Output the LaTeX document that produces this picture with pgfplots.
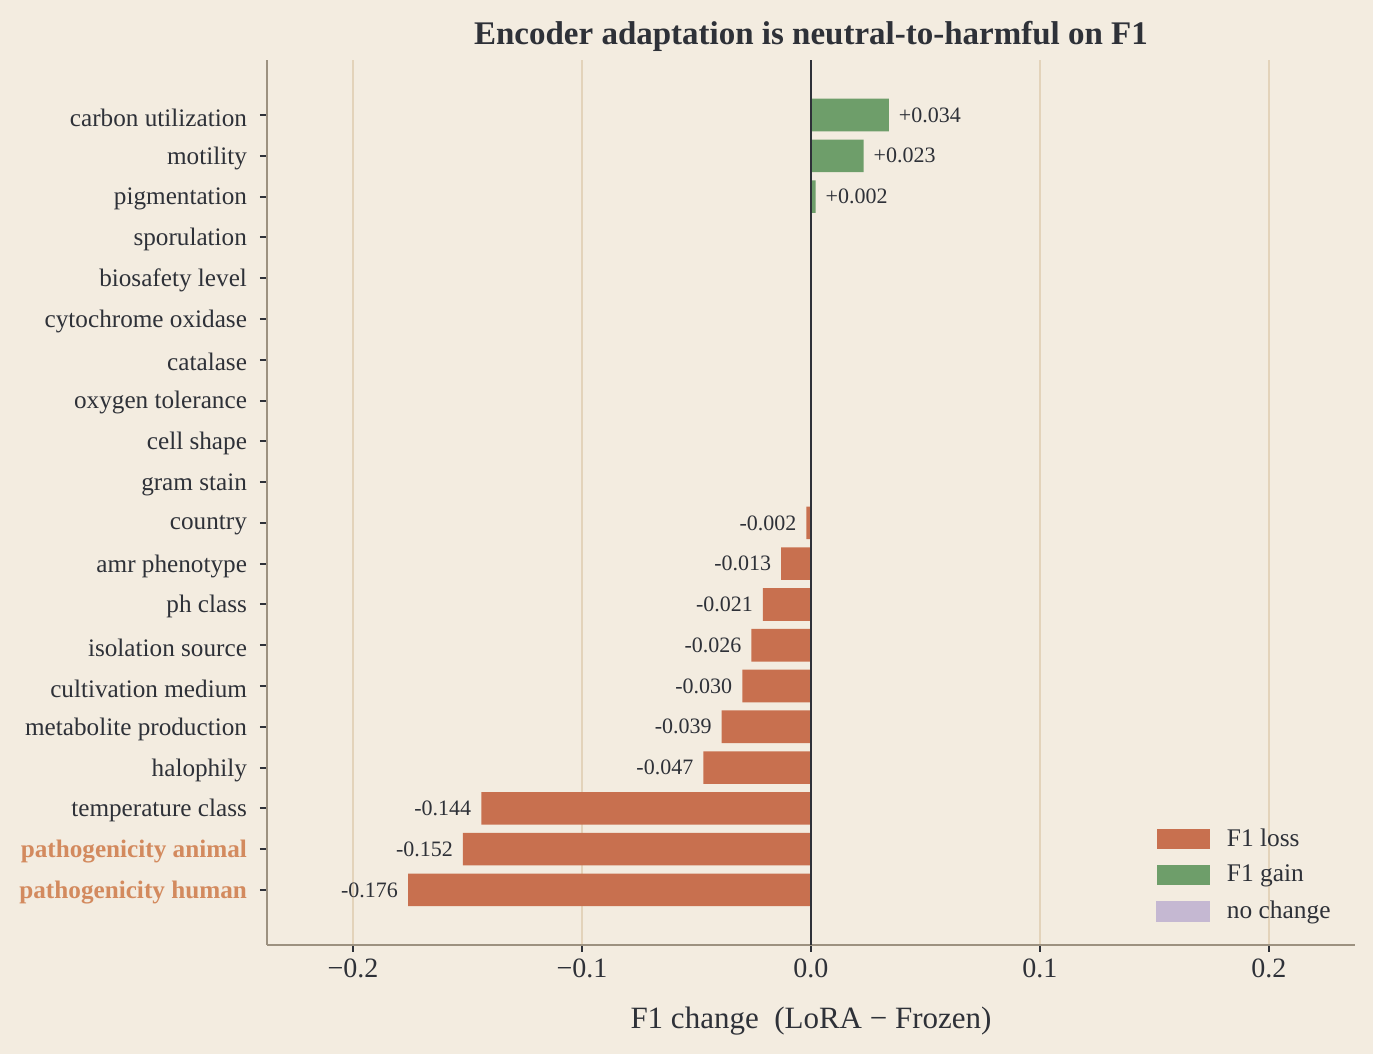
\documentclass[border=0pt]{standalone}
\usepackage{fontspec}
\setmainfont{Liberation Serif}
\usepackage{pgfplots}
\usepackage{pgfplotstable}
\pgfplotsset{compat=1.18}

\definecolor{bg}{HTML}{F3ECE0}
\definecolor{loss}{HTML}{C8704F}
\definecolor{gain}{HTML}{6E9E6A}
\definecolor{nochg}{HTML}{C5B8D2}
\definecolor{ink}{HTML}{2E3138}
\definecolor{gridc}{HTML}{E3D3BA}
\definecolor{spine}{HTML}{9C9180}
\definecolor{hl}{HTML}{D38A5E}

% F1 change per trait (LoRA minus Frozen); row index 0 = bottom of the chart
\pgfplotstableread{
y  x       lab
0  -0.176  -0.176
1  -0.152  -0.152
2  -0.144  -0.144
3  -0.047  -0.047
4  -0.039  -0.039
5  -0.030  -0.030
6  -0.026  -0.026
7  -0.021  -0.021
8  -0.013  -0.013
9  -0.002  -0.002
}\lossdata
\pgfplotstableread{
y   x      lab
17  0.002  +0.002
18  0.023  +0.023
19  0.034  +0.034
}\gaindata

\begin{document}
\begin{tikzpicture}
\path[use as bounding box, fill=bg] (-133.5pt,-54.5pt) rectangle (553pt,472.5pt);
\begin{axis}[
  at={(0,0)}, anchor=south west,
  scale only axis, width=544pt, height=442.5pt,
  xmin=-0.2376, xmax=0.2376,
  ymin=-1.35, ymax=20.35,
  axis x line*=bottom, axis y line*=left,
  axis line style={spine, line width=1pt},
  tick align=outside, major tick length=3.5pt,
  tick style={ink, line width=1pt},
  xtick={-0.2,-0.1,0,0.1,0.2},
  xticklabels={−0.2,−0.1,0.0,0.1,0.2},
  xticklabel style={font=\fontsize{14}{16}\selectfont, text=ink},
  ytick={0,...,19},
  yticklabels={
    \textcolor{hl}{\bfseries pathogenicity human},
    \textcolor{hl}{\bfseries pathogenicity animal},
    temperature class, halophily, metabolite production,
    cultivation medium, isolation source, ph class, amr phenotype,
    country, gram stain, cell shape, oxygen tolerance, catalase,
    cytochrome oxidase, biosafety level, sporulation, pigmentation,
    motility, carbon utilization},
  yticklabel style={font=\fontsize{12.6}{14}\selectfont, text=ink,
    xshift=-3pt, yshift=-1.2pt},
  xmajorgrids, grid style={gridc, line width=1pt},
  bar width=0.8,
  xlabel={F1 change\ \ (LoRA − Frozen)},
  xlabel style={font=\fontsize{15.5}{18}\selectfont, text=ink, yshift=-7.5pt},
  legend cell align=left,
  legend style={draw=none, fill=none, at={(0.815,0.0)}, anchor=south west,
    xshift=-2pt, yshift=7.5pt,
    font=\fontsize{12.7}{15}\selectfont, text=ink, row sep=4pt,
    /tikz/every odd column/.append style={column sep=6.5pt}},
  nodes near coords style={font=\fontsize{11}{13}\selectfont, text=ink},
]
\addplot[xbar, fill=loss, draw=none, point meta=explicit symbolic,
  nodes near coords={\pgfplotspointmeta},
  every node near coord/.append style={anchor=east, xshift=-1.5pt},
  legend image code/.code={\fill[loss] (0pt,-5pt) rectangle (26.5pt,5pt);}]
  table[x=x, y=y, meta=lab] {\lossdata};
\addlegendentry{F1 loss}
\addplot[xbar, fill=gain, draw=none, point meta=explicit symbolic,
  nodes near coords={\pgfplotspointmeta},
  every node near coord/.append style={anchor=west, xshift=1.5pt},
  legend image code/.code={\fill[gain] (0pt,-5pt) rectangle (26.5pt,5pt);}]
  table[x=x, y=y, meta=lab] {\gaindata};
\addlegendentry{F1 gain}
\addlegendimage{legend image code/.code={\fill[nochg] (0pt,-5pt) rectangle (26.5pt,5pt);}}
\addlegendentry{no change}
\draw[ink, line width=1.2pt] (axis cs:0,-1.35) -- (axis cs:0,20.35);
\end{axis}
\node[font=\fontsize{16.5}{19}\selectfont\bfseries, text=ink] at (272pt,454.5pt)
  {Encoder adaptation is neutral-to-harmful on F1};
\end{tikzpicture}
\end{document}
